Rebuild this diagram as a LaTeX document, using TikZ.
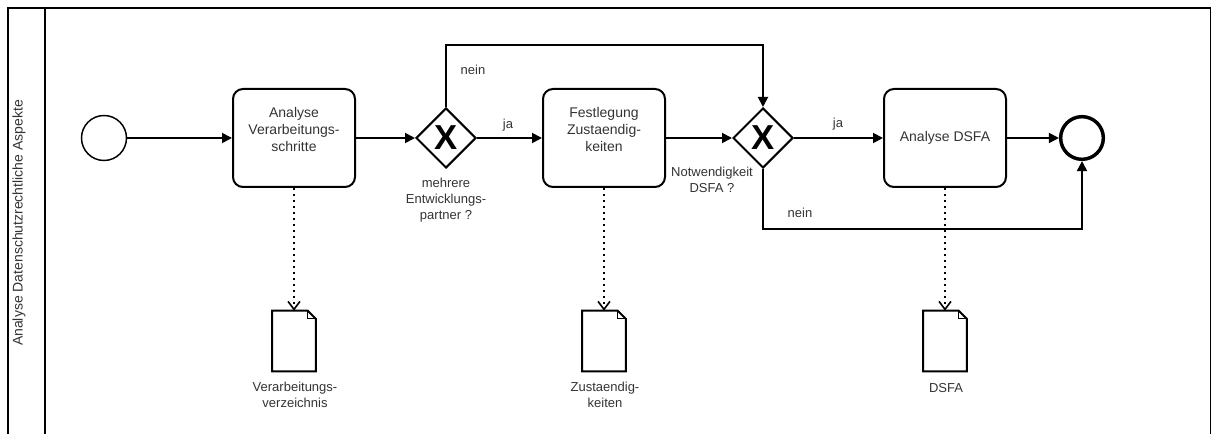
\documentclass[tikz,border=0pt]{standalone}
\usepackage{fontspec}
\setmainfont{Liberation Sans}
\usetikzlibrary{arrows.meta,shapes.geometric,calc}
\definecolor{txt}{HTML}{333333}
\begin{document}
\begin{tikzpicture}[x=0.75pt,y=-0.75pt,
  task/.style={draw,line width=1.5pt,rounded corners=7.5pt,minimum width=91.5pt,minimum height=73.5pt,inner sep=0},
  gate/.style={diamond,draw,line width=1.5pt,minimum width=45pt,minimum height=45pt,inner sep=0,aspect=1},
  xmark/.style={font=\fontsize{26}{26}\selectfont\bfseries,inner sep=0},
  lbl/.style={text=txt,font=\fontsize{9.75}{12}\selectfont,align=center,inner sep=0},
  tasklbl/.style={text=txt,font=\fontsize{10.5}{12.75}\selectfont,align=center,inner sep=0},
  flow/.style={line width=1.4pt,-{Triangle[length=7.5pt,width=7.5pt]}},
  assoc/.style={line width=1.5pt,dash pattern=on 1.8pt off 2.7pt,-{Straight Barb[length=6pt,width=9pt,line width=1.2pt]}},
  docbox/.style={minimum width=32.25pt,minimum height=45pt,inner sep=0},
  docline/.style={line width=1.5pt,line join=miter},
]
\useasboundingbox (0,0) rectangle (1211,434);
\begin{scope}
\clip (0,0) rectangle (1211,434);
\draw[line width=1.5pt] (8,445) -- (8,8) -- (1210.5,8) -- (1210.5,445);
\draw[line width=1.5pt] (45,8) -- (45,445);
\end{scope}
\node[rotate=90,text=txt,font=\fontsize{10.5}{12}\selectfont,inner sep=0] (lane) at (19,223) {Analyse Datenschutzrechtliche Aspekte};

% events
\node[circle,draw,line width=1.1pt,minimum size=33.75pt,inner sep=0] (start) at (104,138) {};
\node[circle,draw,line width=2.6pt,minimum size=32pt,inner sep=0] (end) at (1082,138) {};

% tasks
\node[task] (t1) at (294,138) {};
\node[task] (t2) at (604,138) {};
\node[task] (t3) at (945,138) {};
\node[tasklbl] (t1l) at ($(t1.center)+(0,-8)$) {Analyse\\Verarbeitungs-\\schritte};
\node[tasklbl] (t2l) at ($(t2.center)+(0,-8)$) {Festlegung\\Zustaendig-\\keiten};
\node[tasklbl] (t3l) at (t3.center) {Analyse DSFA};

% gateways
\node[gate] (g1) at (446,138) {};
\node[gate] (g2) at (763,138) {};
\node[xmark] (g1x) at (g1.center) {X};
\node[xmark] (g2x) at (g2.center) {X};
\node[lbl] (g1l) at (446,200) {mehrere\\Entwicklungs-\\partner ?};
\node[lbl] (g2l) at (712,180) {Notwendigkeit\\DSFA ?};

% flows
\draw[flow] (start) -- (t1);
\draw[flow] (t1) -- (g1);
\draw[flow] (g1) -- (t2);
\draw[flow] (t2) -- (g2);
\draw[flow] (g2) -- (t3);
\draw[flow] (t3) -- (end);
\draw[flow] (g1.north) -- ++(0,-62) -| (g2.north);
\draw[flow] (g2.south) -- ++(0,60) -| (end.south);

\node[lbl] (n1) at (473,70) {nein};
\node[lbl] (j1) at (508,125) {ja};
\node[lbl] (j2) at (838,124) {ja};
\node[lbl] (n2) at (800,213) {nein};

% data objects
\foreach \n/\x in {d1/294,d2/604,d3/945}{
  \node[docbox] (\n) at (\x,341) {};
  \draw[docline] (\n.north west) -- ($(\n.north east)+(-8,0)$) -- ($(\n.north east)+(0,8)$) -- (\n.south east) -- (\n.south west) -- cycle;
  \draw[line width=0.9pt,line join=miter] ($(\n.north east)+(-8,0)$) -- ($(\n.north east)+(-8,8)$) -- ($(\n.north east)+(0,8)$);
}
\draw[assoc] (t1.south) -- (d1.north);
\draw[assoc] (t2.south) -- (d2.north);
\draw[assoc] (t3.south) -- (d3.north);

\node[lbl] (l1) at (295,395) {Verarbeitungs-\\verzeichnis};
\node[lbl] (l2) at (605,395) {Zustaendig-\\keiten};
\node[lbl] (l3) at (946,388) {DSFA};
\end{tikzpicture}
\end{document}
